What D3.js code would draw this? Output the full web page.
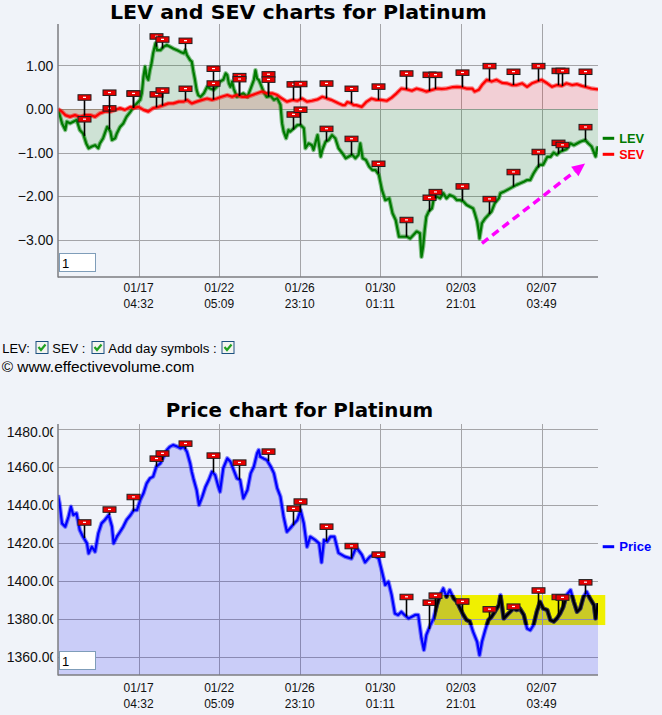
<!DOCTYPE html>
<html><head><meta charset="utf-8">
<script src="https://cdn.jsdelivr.net/npm/d3@7"></script>
<style>html,body{margin:0;padding:0;background:#f0f3f9;} svg{display:block;}</style>
</head><body><svg id="c" width="662" height="715"></svg>
<script>
// ---------- DATA ----------
const xTickPos = [100, 200, 300, 400, 500, 600];
const xTickLabels = [["01/17","04:32"],["01/22","05:09"],["01/26","23:10"],["01/30","01:11"],["02/03","21:01"],["02/07","03:49"]];
const levTicks = [1, 0, -1, -2, -3];
const priceTicks = [1480, 1460, 1440, 1420, 1400, 1380, 1360];

const lev = [[0,0],[5,-0.33],[9,-0.48],[11,-0.29],[15,-0.33],[19,-0.29],[23,-0.25],[27,-0.48],[31,-0.56],[35,-0.79],[38,-0.90],[42,-0.86],[46,-0.83],[50,-0.90],[52,-0.79],[56,-0.67],[61,-0.41],[65,-0.52],[67,-0.71],[71,-0.67],[73,-0.56],[77,-0.41],[81,-0.33],[85,-0.18],[90,-0.06],[94,0.05],[98,0.13],[102,0.21],[104,0.36],[106,0.74],[108,0.97],[110,0.74],[112,0.67],[114,0.89],[116,1.05],[118,1.28],[121,1.51],[123,1.35],[127,1.35],[131,1.43],[135,1.47],[139,1.43],[143,1.39],[148,1.35],[152,1.31],[156,1.28],[158,1.35],[160,1.24],[164,1.12],[166,1.09],[168,0.86],[170,0.67],[172,0.44],[174,0.32],[177,0.28],[181,0.36],[185,0.51],[189,0.47],[193,0.44],[197,0.51],[201,0.63],[205,0.67],[208,0.82],[210,0.78],[212,0.59],[214,0.51],[216,0.63],[218,0.47],[222,0.28],[226,0.32],[230,0.36],[235,0.28],[239,0.47],[243,0.67],[245,0.89],[247,0.70],[249,0.67],[251,0.59],[255,0.40],[259,0.28],[264,0.30],[268,0.21],[272,0.25],[276,0.10],[278,-0.33],[280,-0.52],[283,-0.67],[286,-0.48],[288,-0.52],[293,-0.44],[297,-0.37],[301,-0.37],[305,-0.44],[307,-0.90],[311,-0.79],[315,-0.83],[317,-0.94],[322,-0.60],[326,-1.09],[328,-0.94],[332,-0.75],[336,-0.71],[340,-0.60],[344,-0.67],[348,-0.90],[353,-1.02],[357,-1.13],[361,-1.09],[365,-1.05],[369,-1.13],[373,-1.05],[375,-0.79],[378,-1.13],[382,-1.17],[386,-1.32],[390,-1.40],[394,-1.40],[398,-1.51],[402,-1.86],[406,-2.09],[411,-2.05],[415,-2.39],[419,-2.55],[423,-2.93],[427,-2.93],[433,-2.93],[437,-2.97],[441,-2.89],[445,-2.81],[449,-2.85],[451,-3.39],[453,-3.16],[455,-2.78],[457,-2.47],[460,-2.35],[464,-2.28],[466,-2.09],[470,-2.01],[474,-2.05],[478,-1.93],[482,-2.05],[486,-1.97],[491,-2.01],[495,-2.09],[499,-2.09],[503,-2.12],[507,-2.20],[511,-2.24],[515,-2.28],[517,-2.39],[520,-2.58],[522,-2.81],[523,-2.97],[526,-2.62],[530,-2.51],[534,-2.43],[538,-2.35],[542,-2.16],[547,-2.05],[549,-1.93],[553,-1.90],[557,-1.86],[561,-1.82],[565,-1.78],[569,-1.74],[573,-1.71],[578,-1.67],[582,-1.63],[586,-1.63],[590,-1.48],[594,-1.36],[598,-1.28],[602,-1.28],[607,-1.10],[611,-1.10],[615,-1.00],[619,-1.05],[623,-0.98],[627,-0.95],[631,-0.92],[636,-0.79],[640,-0.83],[644,-0.79],[648,-0.75],[654,-0.71],[658,-0.79],[662,-0.86],[667,-1.09],[669,-0.90],[670,-0.86]];

const sev = [[0,0],[5,-0.06],[9,-0.14],[15,-0.18],[21,-0.14],[27,-0.18],[34,-0.14],[40,-0.14],[46,-0.18],[52,-0.10],[58,-0.06],[65,-0.06],[71,-0.02],[77,0.02],[83,-0.02],[90,0.05],[94,0.02],[100,0.05],[106,-0.02],[112,-0.06],[118,0.02],[125,0.05],[131,0.09],[137,0.13],[143,0.13],[150,0.17],[156,0.17],[160,0.21],[166,0.13],[172,0.17],[179,0.21],[185,0.24],[191,0.21],[197,0.24],[203,0.28],[210,0.32],[216,0.28],[222,0.32],[228,0.28],[235,0.28],[241,0.32],[247,0.36],[253,0.40],[259,0.36],[266,0.36],[272,0.32],[278,0.24],[284,0.17],[291,0.21],[297,0.19],[303,0.24],[309,0.17],[315,0.19],[322,0.22],[328,0.28],[334,0.24],[339,0.21],[348,0.13],[353,0.09],[356,0.09],[359,0.16],[364,0.13],[367,0.09],[370,0.09],[377,0.05],[383,0.17],[389,0.24],[395,0.21],[401,0.21],[408,0.19],[414,0.26],[420,0.36],[426,0.47],[433,0.45],[439,0.42],[445,0.47],[451,0.44],[457,0.40],[464,0.44],[470,0.47],[476,0.46],[482,0.47],[489,0.50],[495,0.51],[501,0.50],[507,0.47],[514,0.47],[517,0.40],[522,0.44],[526,0.55],[532,0.67],[538,0.63],[544,0.67],[551,0.60],[557,0.59],[563,0.55],[569,0.55],[576,0.59],[582,0.51],[588,0.59],[594,0.63],[600,0.67],[607,0.59],[613,0.51],[619,0.55],[625,0.53],[631,0.59],[638,0.55],[644,0.57],[650,0.53],[656,0.50],[662,0.47],[670,0.45]];

const price = [[0,1445.4],[2,1441],[5,1430.5],[9,1428.8],[13,1434],[16,1439.3],[19,1434.9],[23,1435.8],[27,1427],[31,1423.5],[36,1420],[38,1414.7],[42,1418.2],[46,1415.6],[50,1425.3],[54,1430.5],[58,1432.3],[63,1434.9],[67,1428.8],[69,1420],[73,1423.5],[77,1426.1],[81,1428.8],[85,1432.3],[90,1434.9],[94,1437.5],[98,1437.5],[102,1442.8],[106,1446.3],[110,1451.6],[114,1454.2],[118,1455.1],[122,1460.4],[127,1462.1],[131,1465.6],[135,1469.1],[139,1470.9],[143,1471.8],[148,1470.9],[152,1470],[156,1470.9],[160,1468.2],[164,1462.1],[166,1457.7],[168,1454.2],[172,1448.1],[175,1440.2],[179,1444.6],[183,1449.8],[187,1453.3],[191,1457.7],[195,1456],[199,1449.8],[201,1447.2],[205,1459.5],[210,1464.7],[214,1463],[218,1458.6],[222,1454.2],[226,1453.3],[230,1443.7],[235,1448.1],[239,1456.8],[243,1460.4],[247,1467.4],[249,1469.1],[251,1465.6],[255,1464.7],[259,1463.9],[264,1460.4],[268,1456.8],[272,1449],[276,1444.6],[280,1434],[284,1426.1],[288,1427.9],[293,1430.5],[297,1432.3],[301,1437.5],[305,1430.5],[309,1418.2],[313,1423.5],[319,1421.8],[324,1420],[327,1410],[330,1421.8],[334,1420.9],[338,1423.5],[343,1423.5],[348,1415],[356,1413],[364,1412],[370,1418],[377,1414],[381,1410],[387,1413],[391,1414],[398,1412],[402,1405.1],[406,1398.1],[410,1399.8],[414,1392.8],[418,1383.1],[422,1382.3],[426,1384],[430,1382.3],[435,1380.5],[439,1381.4],[443,1382.3],[447,1382.3],[451,1370],[454,1363.9],[457,1371.8],[462,1377],[466,1380.5],[470,1387.5],[474,1392.8],[478,1396.3],[482,1391.9],[486,1395.4],[491,1391],[495,1389.2],[499,1385.7],[503,1382.3],[507,1379.6],[511,1378.8],[515,1373.5],[520,1368.2],[523,1361.2],[526,1368.2],[530,1374.3],[534,1379.6],[538,1381.4],[542,1384],[547,1387.5],[549,1392.8],[553,1380.5],[557,1382.3],[561,1384],[565,1385.7],[569,1384.9],[573,1385.7],[578,1382.3],[582,1375.2],[586,1374.3],[590,1377],[594,1384],[598,1389.2],[602,1385.7],[607,1384.9],[611,1379.6],[615,1378.8],[619,1380.5],[623,1383.1],[627,1386.6],[631,1392.8],[636,1395.4],[640,1389.2],[644,1384],[648,1385.7],[652,1391.9],[656,1394.5],[660,1391],[665,1387.5],[667,1380.5],[670,1388.4]];

// day symbols (flags): positions and flag-head values
const flagT     = [32, 63, 93, 122, 129, 158, 192, 225, 260, 291, 300, 333, 364, 397, 432, 460, 468, 501, 535, 565, 595, 620, 625, 654];
const levFlag   = [-0.23, 0.02, 0.36, 1.67, 1.60, 1.57, 0.93, 0.76, 0.80, -0.12, -0.01, -0.45, -0.68, -1.25, -2.54, -2.03, -1.90, -1.77, -2.06, -1.44, -0.98, -0.77, -0.82, -0.41];
const sevFlag   = [0.27, 0.38, 0.36, 0.34, 0.43, 0.47, 0.59, 0.69, 0.68, 0.57, 0.58, 0.59, 0.47, 0.52, 0.82, 0.79, 0.79, 0.84, 0.99, 0.86, 0.99, 0.88, 0.88, 0.86];
const priceFlag = [1431.1, 1437.9, 1444.5, 1464.7, 1467.4, 1472.6, 1466.3, 1462.6, 1468.4, 1438.4, 1442.1, 1428.9, 1418.7, 1414.2, 1391.9, 1388.9, 1392.6, 1389.5, 1385.4, 1386.8, 1395.3, 1391.9, 1391.6, 1399.6];

// annotations
const arrowStart = [526, -3.08], arrowEnd = [654, -1.25];
const rangeBox = {t0: 467, t1: 679, v0: 1377, v1: 1392.8};

// ---------- DRAW ----------
const W = 662, H = 715;
const BG = "#f0f3f9";
const SANS = "'Liberation Sans', Arial, sans-serif";
const svg = d3.select("#c");
svg.append("rect").attr("width", W).attr("height", H).attr("fill", BG);

const x = d3.scaleLinear().domain([0, 670]).range([58, 598]);
const yL = d3.scaleLinear().domain([-3.853, 1.95]).range([277, 24]);
const yP = d3.scaleLinear().domain([1350.7, 1482.8]).range([675, 424]);

const defs = svg.append("defs");
function clip(id, x0, y0, w, h) {
  defs.append("clipPath").attr("id", id).append("rect").attr("x", x0).attr("y", y0).attr("width", w).attr("height", h);
}
clip("cTop", x(0), yL.range()[1], x(670) - x(0), yL.range()[0] - yL.range()[1]);
clip("cBot", x(0), yP.range()[1], x(670) - x(0), yP.range()[0] - yP.range()[1]);
clip("cBox", x(rangeBox.t0), yP(rangeBox.v1), x(rangeBox.t1) - x(rangeBox.t0), yP(rangeBox.v0) - yP(rangeBox.v1));
clip("cYLab", 0, 400, 53.3, 300);

function interp(data, t) {
  const i = d3.bisector(d => d[0]).left(data, t);
  if (i <= 0) return data[0][1];
  if (i >= data.length) return data[data.length - 1][1];
  const a = data[i - 1], b = data[i];
  return a[1] + (b[1] - a[1]) * (t - a[0]) / (b[0] - a[0]);
}

function grid(yScale, ticks) {
  const g = svg.append("g");
  const [yb, yt] = yScale.range();
  ticks.forEach(v => {
    const yy = Math.round(yScale(v)) + 0.5;
    g.append("line").attr("x1", x(0)).attr("x2", x(670)).attr("y1", yy).attr("y2", yy)
      .attr("stroke", "#a4a4a8").attr("stroke-width", 1);
  });
  xTickPos.forEach(t => {
    const xx = Math.round(x(t)) + 0.5;
    g.append("line").attr("x1", xx).attr("x2", xx).attr("y1", yt).attr("y2", yb)
      .attr("stroke", "#a4a4a8").attr("stroke-width", 1);
  });
}
function axes(yScale, labelY) {
  const [yb, yt] = yScale.range();
  svg.append("line").attr("x1", x(0)).attr("x2", x(0)).attr("y1", yt).attr("y2", yb + 0.5)
    .attr("stroke", "#7c7c80").attr("stroke-width", 1.5);
  svg.append("line").attr("x1", x(0)).attr("x2", x(670)).attr("y1", yb).attr("y2", yb)
    .attr("stroke", "#7c7c80").attr("stroke-width", 1.5);
  xTickPos.forEach((t, i) => {
    xTickLabels[i].forEach((s, k) => {
      svg.append("text").attr("x", x(t)).attr("y", labelY[k]).attr("text-anchor", "middle")
        .attr("font-family", SANS).attr("font-size", 12).attr("fill", "#111").text(s);
    });
  });
}
function flagMark(g, t, vHead, vLine, yScale) {
  const xx = Math.round(x(t)) + 0.5, yh = yScale(vHead), yl = yScale(vLine);
  g.append("line").attr("x1", xx).attr("x2", xx).attr("y1", yh).attr("y2", yl)
    .attr("stroke", "#000").attr("stroke-width", 1.6);
  g.append("rect").attr("x", xx - 6.5).attr("y", yh - 2.5).attr("width", 13).attr("height", 5.5)
    .attr("fill", "#e80000").attr("stroke", "#202020").attr("stroke-width", 1);
  g.append("rect").attr("x", xx - 1.5).attr("y", yh - 0.5).attr("width", 3).attr("height", 1.2).attr("fill", "#fff");
}
function inputBox(yTop) {
  svg.append("rect").attr("x", 59.5).attr("y", yTop + 0.5).attr("width", 36).attr("height", 18)
    .attr("fill", "#fff").attr("stroke", "#7f9db9");
  svg.append("text").attr("x", 62).attr("y", yTop + 14.5).attr("font-family", SANS).attr("font-size", 13)
    .attr("fill", "#000").text("1");
}
function title(txt, xs, xe, yb) {
  svg.append("text").attr("x", xs).attr("y", yb).attr("font-family", "'DejaVu Sans', sans-serif")
    .attr("font-weight", "bold").attr("font-size", 20).attr("textLength", xe - xs)
    .attr("lengthAdjust", "spacingAndGlyphs").attr("fill", "#000").text(txt);
}
function legendItem(xs, yLine, color, txt, w) {
  svg.append("line").attr("x1", xs).attr("x2", xs + 11.5).attr("y1", yLine).attr("y2", yLine)
    .attr("stroke", color).attr("stroke-width", 3);
  svg.append("text").attr("x", xs + 16.5).attr("y", yLine + 4.5).attr("font-family", SANS)
    .attr("font-weight", "bold").attr("font-size", 13).attr("textLength", w)
    .attr("lengthAdjust", "spacingAndGlyphs").attr("fill", color).text(txt);
}
function drawLine(g, data, yScale, color, halo) {
  const ln = d3.line().x(d => x(d[0])).y(d => yScale(d[1]));
  g.append("path").attr("d", ln(data)).attr("fill", "none").attr("stroke", halo)
    .attr("stroke-width", 4.4).attr("stroke-linejoin", "round");
  g.append("path").attr("d", ln(data)).attr("fill", "none").attr("stroke", color)
    .attr("stroke-width", 2.2).attr("stroke-linejoin", "round");
}

// ===== TOP CHART =====
title("LEV and SEV charts for Platinum", 110, 486.7, 18.5);
grid(yL, levTicks);
levTicks.forEach(v => {
  svg.append("text").attr("x", 53.3).attr("y", yL(v) + 5.2).attr("text-anchor", "end")
    .attr("font-family", SANS).attr("font-size", 14).attr("fill", "#111").text(d3.format(".2f")(v));
});
const topG = svg.append("g").attr("clip-path", "url(#cTop)");
const areaL = d3.area().x(d => x(d[0])).y0(yL(0)).y1(d => yL(d[1]));
topG.append("path").attr("d", areaL(sev)).attr("fill", "rgba(255,0,0,0.145)");
topG.append("path").attr("d", areaL(lev)).attr("fill", "rgba(0,128,0,0.14)");
drawLine(topG, lev, yL, "#007a00", "rgba(0,128,0,0.45)");
drawLine(topG, sev, yL, "#ff0000", "rgba(255,0,0,0.45)");
axes(yL, [292, 308]);
const flagsTop = svg.append("g");
flagT.forEach((t, i) => {
  flagMark(flagsTop, t, levFlag[i], interp(lev, t), yL);
  flagMark(flagsTop, t, sevFlag[i], interp(sev, t), yL);
});
// magenta dashed arrow
(function () {
  const x1 = x(arrowStart[0]), y1 = yL(arrowStart[1]), x2 = x(arrowEnd[0]), y2 = yL(arrowEnd[1]);
  const ang = Math.atan2(y2 - y1, x2 - x1), hl = 13, hw = 6;
  const bx = x2 - hl * Math.cos(ang), by = y2 - hl * Math.sin(ang);
  svg.append("line").attr("x1", x1).attr("y1", y1).attr("x2", bx).attr("y2", by)
    .attr("stroke", "#ff00ff").attr("stroke-width", 3.5).attr("stroke-dasharray", "8,5");
  const px = -Math.sin(ang), py = Math.cos(ang);
  svg.append("path").attr("d", `M${x2},${y2}L${bx + px * hw},${by + py * hw}L${bx - px * hw},${by - py * hw}Z`)
    .attr("fill", "#ff00ff");
})();
legendItem(602.7, 138.3, "#007a00", "LEV", 25);
legendItem(602.7, 154.3, "#ff0000", "SEV", 25);
inputBox(253);

// ===== CONTROLS =====
function checkbox(x0, y0) {
  svg.append("rect").attr("x", x0 + 0.5).attr("y", y0 + 0.5).attr("width", 12).attr("height", 12)
    .attr("fill", "#f4f4f0").attr("stroke", "#1c5180");
  svg.append("path").attr("d", `M${x0 + 3},${y0 + 6}L${x0 + 5.5},${y0 + 9}L${x0 + 10},${y0 + 3.5}`)
    .attr("fill", "none").attr("stroke", "#21a121").attr("stroke-width", 2.2);
}
function ctext(txt, xs, w, yb, size) {
  svg.append("text").attr("x", xs).attr("y", yb).attr("font-family", SANS).attr("font-size", size)
    .attr("textLength", w).attr("lengthAdjust", "spacingAndGlyphs").attr("fill", "#000").text(txt);
}
ctext("LEV:", 2.3, 27.5, 353, 13);
checkbox(35.5, 341);
ctext("SEV :", 52.3, 33, 353, 13);
checkbox(91.5, 341);
ctext("Add day symbols :", 108.3, 108.5, 353, 13);
checkbox(221.5, 341);
ctext("© www.effectivevolume.com", 1.7, 192.6, 371.5, 15);

// ===== BOTTOM CHART =====
title("Price chart for Platinum", 165.7, 433.3, 417.3);
svg.append("rect").attr("x", x(rangeBox.t0)).attr("y", yP(rangeBox.v1))
  .attr("width", x(rangeBox.t1) - x(rangeBox.t0)).attr("height", yP(rangeBox.v0) - yP(rangeBox.v1))
  .attr("fill", "#f0f000");
grid(yP, priceTicks);
const ylab = svg.append("g").attr("clip-path", "url(#cYLab)");
priceTicks.forEach(v => {
  ylab.append("text").attr("x", 6.7).attr("y", Math.max(yP(v) + 5, 436.5))
    .attr("font-family", SANS).attr("font-size", 14).attr("fill", "#111").text(d3.format(".2f")(v));
});
const bot = svg.append("g").attr("clip-path", "url(#cBot)");
const areaP = d3.area().x(d => x(d[0])).y0(yP.range()[0]).y1(d => yP(d[1]));
bot.append("path").attr("d", areaP(price)).attr("fill", "rgba(0,0,240,0.155)");
drawLine(bot, price, yP, "#0000ff", "rgba(0,0,255,0.45)");
const inBox = bot.append("g").attr("clip-path", "url(#cBox)");
drawLine(inBox, price, yP, "#000000", "rgba(0,0,0,0.5)");
axes(yP, [692, 707.5]);
const flagsBot = svg.append("g");
flagT.forEach((t, i) => flagMark(flagsBot, t, priceFlag[i], interp(price, t), yP));
legendItem(602.7, 546.7, "#0000ff", "Price", 32);
inputBox(651);
</script></body></html>
